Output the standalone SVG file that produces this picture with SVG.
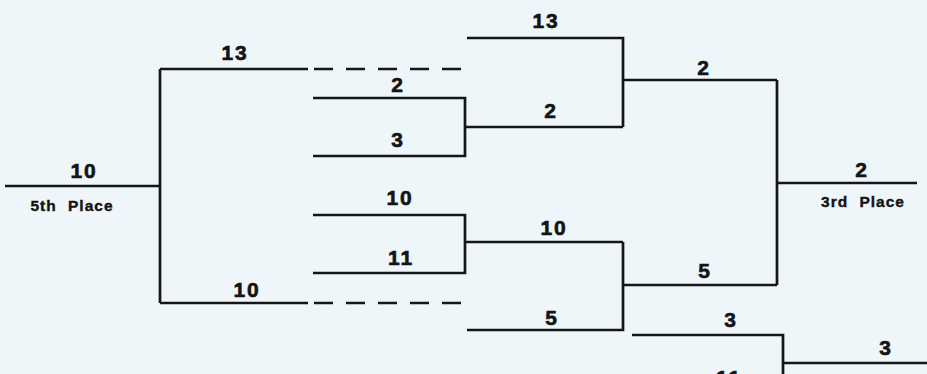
<svg xmlns="http://www.w3.org/2000/svg" width="927" height="374" viewBox="0 0 927 374">
<style>
.bg{fill:#eef6fa}
.ln{fill:none;stroke:#161616;stroke-width:2.7;stroke-linecap:butt;stroke-linejoin:miter}
.ds{stroke-dasharray:19 13}
.n{font-family:"Liberation Sans",Arial,sans-serif;font-weight:bold;font-size:21px;fill:#141414;stroke:#141414;stroke-width:0.6px;text-anchor:middle;letter-spacing:1.8px}
.p{font-family:"Liberation Sans",Arial,sans-serif;font-weight:bold;font-size:15.5px;fill:#141414;stroke:#141414;stroke-width:0.4px;text-anchor:middle;letter-spacing:1px;word-spacing:6px}
</style>
<rect class="bg" x="0" y="0" width="927" height="374"/>
<g id="connectors">
  <path class="ln" d="M5,186 H160 M160,69 V303 M160,69 H308 M160,303 H308"/>
  <path class="ln ds" d="M314,69 H468 M314,303 H468"/>
  <path class="ln" d="M313,98 H465 V156 H313 M465,127 H623"/>
  <path class="ln" d="M467,38 H623 V127 M623,80 H777"/>
  <path class="ln" d="M313,215 H465 V273 H313 M465,242 H623"/>
  <path class="ln" d="M467,330 H623 V242 M623,285 H777"/>
  <path class="ln" d="M777,80 V285 M777,183 H917"/>
  <path class="ln" d="M632,335 H783 V380 M783,363 H927"/>
</g>
<g id="fifth-place"><text class="n" x="84" y="178">10</text><text class="p" x="72" y="211">5th Place</text></g>
<g id="third-place"><text class="n" x="862" y="177">2</text><text class="p" x="863" y="207">3rd Place</text></g>
<g id="l-top"><text class="n" x="235" y="60">13</text></g>
<g id="l-bottom"><text class="n" x="247" y="297">10</text></g>
<g id="r1-2"><text class="n" x="398" y="92">2</text></g>
<g id="r1-3"><text class="n" x="398" y="147">3</text></g>
<g id="r1-10"><text class="n" x="400" y="205">10</text></g>
<g id="r1-11"><text class="n" x="401" y="265">11</text></g>
<g id="r2-13"><text class="n" x="546" y="28">13</text></g>
<g id="r2-2"><text class="n" x="551" y="118">2</text></g>
<g id="r2-10"><text class="n" x="554" y="235">10</text></g>
<g id="r2-5"><text class="n" x="552" y="325">5</text></g>
<g id="r3-2"><text class="n" x="704" y="75">2</text></g>
<g id="r3-5"><text class="n" x="705" y="278">5</text></g>
<g id="r3-3"><text class="n" x="731" y="327">3</text></g>
<g id="r3-11"><text class="n" x="729" y="385">11</text></g>
<g id="r4-3"><text class="n" x="886" y="355">3</text></g>
</svg>
